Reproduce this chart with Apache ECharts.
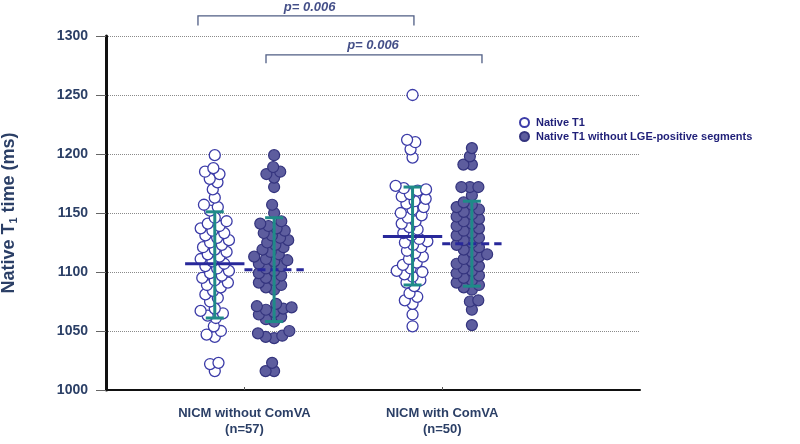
<!DOCTYPE html>
<html>
<head>
<meta charset="utf-8">
<script src="https://cdn.jsdelivr.net/npm/echarts@6/dist/echarts.min.js"></script>
<style>
  html, body { margin: 0; padding: 0; background: #fff; }
  #chart { width: 800px; height: 444px; }
</style>
</head>
<body>
<div id="chart"></div>
<script>
// groups on the x axis
const categories = ['NICM without ComVA\n(n=57)', 'NICM with ComVA\n(n=50)'];
const seriesNames = ['Native T1', 'Native T1 without LGE-positive segments'];

// native T1 (ms)
const withoutOpen = [1199, 1188, 1185, 1183, 1179, 1176, 1170,
  1163, 1157, 1155, 1152,
  1146, 1143, 1141, 1139, 1137, 1135, 1133, 1131, 1129, 1127, 1125, 1123, 1121, 1119, 1117,
  1115, 1113, 1111, 1109, 1107, 1105, 1103, 1101, 1099, 1097, 1095, 1093, 1091, 1089, 1087,
  1084, 1081, 1078, 1075,
  1069, 1067, 1065, 1063, 1061,
  1054, 1050, 1047, 1045,
  1023, 1022, 1016];
const withoutFilled = [1199, 1189, 1185, 1183, 1180, 1172,
  1157, 1150,
  1143, 1141, 1139, 1137, 1135, 1133, 1131, 1129, 1127, 1125, 1123, 1121, 1119, 1117, 1115,
  1113, 1111, 1110, 1109, 1107, 1105, 1103, 1101, 1099, 1097, 1095, 1093, 1091, 1089, 1087, 1085,
  1073, 1071, 1070, 1069, 1068, 1066, 1064, 1062, 1060, 1058,
  1050, 1048, 1046, 1045, 1044,
  1023, 1016, 1016];
const withOpen = [1250,
  1212, 1210, 1204, 1197,
  1173, 1171, 1170, 1169, 1166, 1164, 1162, 1160, 1158, 1155, 1153, 1150, 1148, 1146, 1143,
  1141, 1138, 1136, 1133, 1131, 1128, 1126, 1125, 1123, 1121, 1118, 1116, 1113, 1111, 1108,
  1106, 1103, 1101, 1100, 1098, 1096, 1093, 1091, 1088,
  1082, 1079, 1076, 1073,
  1064,
  1054];
const withFilled = [1205, 1198, 1191, 1191,
  1172, 1172, 1172, 1165,
  1159, 1157, 1155, 1153, 1151, 1149, 1147, 1145, 1143, 1141, 1139, 1137, 1135, 1133, 1131,
  1129, 1127, 1125, 1123, 1121, 1119, 1117, 1115, 1113, 1111, 1109, 1107, 1105, 1103, 1101,
  1099, 1097, 1095, 1093, 1091, 1089, 1087, 1085,
  1076, 1075, 1068, 1055];

// mean and mean +/- SD per group: [open, filled] for each category
const means = [[1107, 1102], [1130, 1124]];
const sdLow = [[1061, 1058], [1089, 1088]];
const sdHigh = [[1151, 1146], [1172, 1160]];

const pValues = ['p= 0.006', 'p= 0.006'];
const yTicks = { min: 1000, max: 1300, step: 50 };

// layout (x in axis units: categories sit at 1 and 2)
const catX = [1, 2];
const offset = [-0.15, 0.15];
const brackets = [
  { x1: 0.765, x2: 1.857, y: 1317, leg: 1309, tx: 1.33, ty: 1324 },
  { x1: 1.109, x2: 2.201, y: 1284, leg: 1277, tx: 1.65, ty: 1292 }
];

const navy = '#2b3f66';
const font = 'Arial, "Liberation Sans", sans-serif';

const summary = [];
catX.forEach((cx, ci) => {
  [0, 1].forEach(si => {
    summary.push([cx + offset[si], means[ci][si], sdLow[ci][si], sdHigh[ci][si], si]);
  });
});

const chart = echarts.init(document.getElementById('chart'));

const option = {
  animation: false,
  backgroundColor: '#fff',
  grid: { left: 106, right: 160, top: 36, bottom: 54, outerBoundsMode: 'none', containLabel: false },
  legend: {
    data: seriesNames,
    orient: 'vertical',
    left: 514,
    top: 112,
    itemGap: 3,
    itemWidth: 9,
    itemHeight: 9,
    textStyle: { fontFamily: font, fontWeight: 'bold', fontSize: 11, color: '#1f1f78', padding: [0, 0, 0, 2] }
  },
  xAxis: {
    type: 'value',
    min: 0.3,
    max: 3.0,
    splitLine: { show: false },
    axisLine: { lineStyle: { color: '#111', width: 2 } },
    axisTick: { show: true, inside: true, length: 3, customValues: catX, lineStyle: { color: '#555' } },
    axisLabel: {
      customValues: catX,
      margin: 15,
      formatter: v => categories[catX.indexOf(v)] || '',
      fontFamily: font, fontWeight: 'bold', fontSize: 13, lineHeight: 16, color: navy
    }
  },
  yAxis: {
    type: 'value',
    min: yTicks.min,
    max: yTicks.max,
    interval: yTicks.step,
    name: 'Native T{sub|1} time (ms)',
    nameLocation: 'middle',
    nameGap: 87,
    nameTextStyle: {
      fontFamily: font, fontWeight: 'bold', fontSize: 18, color: navy,
      rich: { sub: { fontFamily: font, fontWeight: 'bold', fontSize: 11, color: navy, padding: [8, 0, 0, 0] } }
    },
    axisLine: { show: true, lineStyle: { color: '#111', width: 3 } },
    axisTick: { show: true, length: 10, lineStyle: { color: '#666' } },
    axisLabel: { margin: 18, formatter: v => String(v), fontFamily: font, fontWeight: 'bold', fontSize: 14, color: navy },
    splitLine: { lineStyle: { color: '#8a8a8a', type: 'dotted' } }
  },
  series: [
    {
      id: 'open',
      name: seriesNames[0],
      type: 'scatter',
      symbolSize: 11,
      itemStyle: { color: '#fff', borderColor: '#3c3ca8', borderWidth: 1.3, opacity: 1 },
      z: 2,
      data: []
    },
    {
      id: 'filled',
      name: seriesNames[1],
      type: 'scatter',
      symbolSize: 11,
      itemStyle: { color: '#5d5d9e', borderColor: '#34347e', borderWidth: 1.2, opacity: 1 },
      z: 2,
      data: []
    },
    {
      name: 'summary',
      type: 'custom',
      z: 5,
      silent: true,
      renderItem: (params, api) => {
        const x = api.value(0);
        const pm = api.coord([x, api.value(1)]);
        const pl = api.coord([x, api.value(2)]);
        const ph = api.coord([x, api.value(3)]);
        const dashed = api.value(4) === 1;
        const half = api.size([0.15, 0])[0];
        const cap = 9;
        const teal = '#1f8a88';
        return {
          type: 'group',
          children: [
            { type: 'line', shape: { x1: pm[0] - half, y1: pm[1], x2: pm[0] + half, y2: pm[1] },
              style: { stroke: '#28289a', lineWidth: 3, lineDash: dashed ? [8, 5] : null } },
            { type: 'line', shape: { x1: pl[0], y1: pl[1], x2: ph[0], y2: ph[1] },
              style: { stroke: teal, lineWidth: 3 } },
            { type: 'line', shape: { x1: ph[0] - cap, y1: ph[1], x2: ph[0] + cap, y2: ph[1] },
              style: { stroke: teal, lineWidth: 3 } },
            { type: 'line', shape: { x1: pl[0] - cap, y1: pl[1], x2: pl[0] + cap, y2: pl[1] },
              style: { stroke: teal, lineWidth: 3 } }
          ]
        };
      },
      data: summary
    },
    {
      name: 'brackets',
      type: 'lines',
      coordinateSystem: 'cartesian2d',
      polyline: true,
      clip: false,
      silent: true,
      lineStyle: { color: '#4f5d84', width: 1.3, opacity: 1 },
      data: brackets.map(b => ({ coords: [[b.x1, b.leg], [b.x1, b.y], [b.x2, b.y], [b.x2, b.leg]] }))
    },
    {
      name: 'pvalues',
      type: 'scatter',
      symbolSize: 0,
      clip: false,
      silent: true,
      label: {
        show: true,
        position: 'inside',
        formatter: p => p.name,
        fontFamily: font, fontWeight: 'bold', fontStyle: 'italic', fontSize: 13, color: '#15236a'
      },
      data: brackets.map((b, i) => ({ name: pValues[i], value: [b.tx, b.ty] }))
    }
  ]
};

chart.setOption(option);

// beeswarm: spread close values sideways, circles may overlap a little
function swarm(vals, cx) {
  const D = 8.5;
  const p0 = chart.convertToPixel({ gridIndex: 0 }, [0, 1000]);
  const p1 = chart.convertToPixel({ gridIndex: 0 }, [1, 1000]);
  const pxPerUnit = p1[0] - p0[0];
  const pts = vals.map(v => ({ v, y: chart.convertToPixel({ gridIndex: 0 }, [cx, v])[1] }));
  pts.sort((a, b) => b.y - a.y);
  const placed = [];
  pts.forEach(p => {
    const near = placed.filter(q => Math.abs(q.y - p.y) < D);
    const cands = [0];
    near.forEach(q => {
      const h = Math.sqrt(D * D - (q.y - p.y) ** 2);
      cands.push(q.dx - h, q.dx + h);
    });
    cands.sort((a, b) => Math.abs(a) - Math.abs(b));
    p.dx = cands.find(c => near.every(q => (c - q.dx) ** 2 + (q.y - p.y) ** 2 >= D * D - 0.01));
    placed.push(p);
  });
  return placed.map(p => [cx + p.dx / pxPerUnit, p.v]);
}

chart.setOption({
  series: [
    { id: 'open', data: swarm(withoutOpen, catX[0] + offset[0]).concat(swarm(withOpen, catX[1] + offset[0])) },
    { id: 'filled', data: swarm(withoutFilled, catX[0] + offset[1]).concat(swarm(withFilled, catX[1] + offset[1])) }
  ]
});
</script>
</body>
</html>
